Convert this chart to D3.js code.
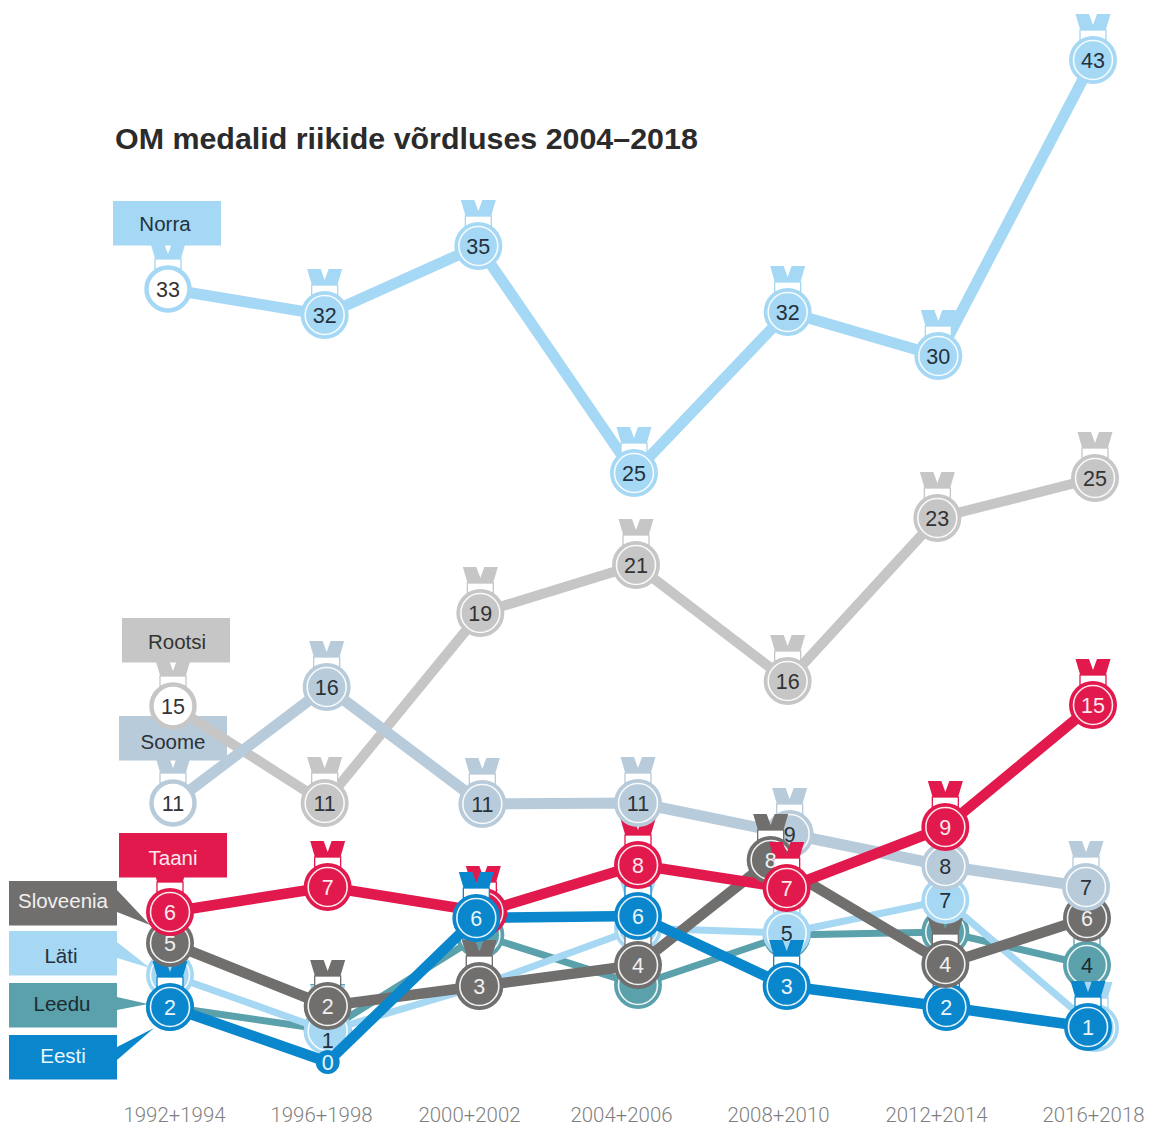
<!DOCTYPE html>
<html><head><meta charset="utf-8">
<script src="https://cdn.jsdelivr.net/npm/d3@7"></script>
<style>html,body{margin:0;background:#fff}svg{display:block}</style></head>
<body><svg id="c" width="1153" height="1126"></svg>
<script>
const periods = ["1992+1994","1996+1998","2000+2002","2004+2006","2008+2010","2012+2014","2016+2018"];
const norra = [33,32,35,25,32,30,43];
const rootsi = [15,11,19,21,16,23,25];
const soome = [11,16,11,11,9,8,7];
const taani = [6,7,6,8,7,9,15];
const sloveenia = [5,2,3,4,8,4,6];
const lati = [3,1,3,5,5,7,1];
const leedu = [2,1,5,3,5,5,4];
const eesti = [2,0,6,6,3,2,1];
const seriesNames = ["Norra","Rootsi","Soome","Taani","Sloveenia","Läti","Leedu","Eesti"];
const seriesValues = {Norra:norra,Rootsi:rootsi,Soome:soome,Taani:taani,Sloveenia:sloveenia,"Läti":lati,Leedu:leedu,Eesti:eesti};
const title = "OM medalid riikide võrdluses 2004–2018";

// ---- layout & style (hand placement of the original graphic) ----
const style = {
 Norra:{c:"#a5d8f4",w:11,t:"#24313d"},Rootsi:{c:"#c6c6c6",w:10,t:"#333"},Soome:{c:"#b8cbda",w:11,t:"#2b3238"},
 Taani:{c:"#e2194c",w:10.5,t:"#fbe9ee"},Sloveenia:{c:"#706f6e",w:10.5,t:"#f0f0f0"},"Läti":{c:"#a7d8f3",w:7,t:"#24313d"},
 Leedu:{c:"#5aa1ab",w:7,t:"#1b2b30"},Eesti:{c:"#0a87cc",w:10.5,t:"#eaf6fc"}};
const nudge = {
 Norra:{dx:[-2,1,1,3,3,0,1],dy:[-1,2,2,-1,-1,-3,0]},
 Rootsi:{dx:[3,1,3,5,3,-1,3],dy:[2,7,1,-1,0,-2,4]},
 Soome:{dx:[3,3,5,7,5,7,-6],dy:[7,6,8,7,-8,1,-1]},
 Taani:{dx:[0,4,6,7,2,7,1],dy:[1,-1,1,0,0,-15,1]},
 Sloveenia:{dx:[0,4,2,7,-14,7,-5],dy:[9,3,6,8,-5,7,7]},
 "Läti":{dx:[0,4,2,7,2,7,3],dy:[-5,5,6,-6,-1,12,2]},
 Leedu:{dx:[0,4,3,7,2,7,-5],dy:[4,4,1,5,1,-2,8]},
 Eesti:{dx:[0,4,-1,7,2,8,-4],dy:[4,13,7,5,6,4,1]}};
const hiddenLabel = {"Läti":[0,2,3,6],Leedu:[0,1,2,3,4,5],Taani:[2],Eesti:[]};
const labelShift = {"Läti-1":9};
const hollow = {Norra:[0],Rootsi:[0],Soome:[0]};
const tiny = {Eesti:[1]};
// per period stacking; "/r" = ribbon only, "/c" = disc only
const frontOrder = [
 ["Eesti","Sloveenia","Taani","Soome","Rootsi","Norra"],
 ["Eesti","Sloveenia","Taani","Soome","Rootsi","Norra"],
 ["Sloveenia","Taani","Eesti","Soome","Rootsi","Norra"],
 ["Sloveenia/r","Eesti","Sloveenia/c","Taani","Soome","Rootsi","Norra"],
 ["Soome","Sloveenia","Eesti","Taani","Rootsi","Norra"],
 ["Eesti","Sloveenia","Läti","Soome","Taani","Rootsi","Norra"],
 ["Sloveenia","Soome","Eesti","Taani","Rootsi","Norra"]];
const boxes = [
 {n:"Norra",x:113,y:201,tx:165,ty:231},
 {n:"Rootsi",x:122,y:618,tx:177,ty:649},
 {n:"Soome",x:119,y:716,tx:173,ty:749,under:true},
 {n:"Taani",x:119,y:833,tx:173,ty:865},
 {n:"Sloveenia",x:9,y:881,tx:63,ty:908,tip:[[117,890],[150,925],[117,912]]},
 {n:"Läti",x:9,y:931,tx:61,ty:963,tip:[[117,942],[150,968],[117,958]]},
 {n:"Leedu",x:9,y:983,tx:62,ty:1011,tip:[[117,997],[148,1004],[117,1010]]},
 {n:"Eesti",x:9,y:1035,tx:63,ty:1063,tip:[[117,1047],[154,1028],[117,1060]]}];

const x = d3.scalePoint().domain(periods).range([170,1092]);
const y = d3.scaleLinear().domain([0,43]).range([1049,60]);
const axisX = d3.scaleOrdinal().domain(periods).range([174,321,469,621,778,936,1093]);
const px = (n,i)=>x(periods[i])+nudge[n].dx[i];
const py = (n,i)=>y(seriesValues[n][i])+nudge[n].dy[i];

const svg = d3.select("#c");
const roboto = "Roboto, sans-serif";
const arial = "'Liberation Sans',Arial,sans-serif";

svg.append("text").attr("x",115).attr("y",149).attr("font-family",arial)
 .attr("font-weight",700).attr("font-size",30.4).attr("fill","#2b2b2b").text(title);

const axisG = svg.append("g").attr("transform","translate(0,1108)")
 .call(d3.axisBottom(axisX).tickValues(periods).tickSize(0).tickPadding(0));
axisG.select(".domain").remove();
axisG.selectAll("text").attr("font-family",roboto).attr("font-size",20.4).attr("font-weight",300).attr("fill","#7f7f7f");

const lineGen = n => d3.line().x((d,i)=>px(n,i)).y((d,i)=>py(n,i))(seriesValues[n]);
function drawLine(g,n){
 g.append("path").attr("d",lineGen(n)).attr("fill","none").attr("stroke",style[n].c)
  .attr("stroke-width",style[n].w).attr("stroke-linejoin","round");
}
function drawMarker(g,n,i,part){
 const s = style[n], cx = px(n,i), cy = py(n,i);
 const m = g.append("g").attr("transform",`translate(${cx},${cy})`);
 if((tiny[n]||[]).includes(i)){
  m.append("circle").attr("r",12).attr("fill",s.c);
  return;
 }
 if(part!=="c"){
  m.append("path").attr("d","M-17.5,-46L-4,-46L0,-35L4,-46L17.5,-46L12.5,-29L-12.5,-29Z").attr("fill",s.c);
  m.append("rect").attr("x",-13).attr("y",-30).attr("width",26).attr("height",10)
   .attr("fill","#fff").attr("stroke",s.c).attr("stroke-width",1.3);
 }
 if(part==="r") return;
 if((hollow[n]||[]).includes(i)){
  m.append("circle").attr("r",21.5).attr("fill","#fff").attr("stroke",s.c).attr("stroke-width",4.5);
 } else {
  m.append("circle").attr("r",24).attr("fill",s.c);
  m.append("circle").attr("r",19.5).attr("fill",s.c).attr("stroke","#fff").attr("stroke-width",1.6).attr("stroke-opacity",.9);
 }
}
function drawBox(g,b){
 g.append("rect").attr("x",b.x).attr("y",b.y).attr("width",108).attr("height",44.5).attr("fill",style[b.n].c);
 g.append("text").attr("x",b.tx).attr("y",b.ty).attr("text-anchor","middle").attr("font-family",arial)
  .attr("font-size",20.5).attr("fill",style[b.n].t).text(b.n);
}
const back = svg.append("g"), mid = svg.append("g"), front = svg.append("g");
boxes.filter(b=>b.under).forEach(b=>drawBox(back,b));
boxes.filter(b=>b.tip).forEach(b=>back.append("path").attr("d",d3.line()(b.tip)+"Z").attr("fill",style[b.n].c));
drawLine(back,"Leedu");
periods.forEach((p,i)=>drawMarker(back,"Leedu",i));
drawLine(back,"Läti");
periods.forEach((p,i)=>{ if(i!==5) drawMarker(back,"Läti",i); });
["Norra","Rootsi","Soome","Sloveenia","Eesti","Taani"].forEach(n=>drawLine(mid,n));
frontOrder.forEach((order,i)=>order.forEach(e=>{
 const [n,part] = e.split("/");
 drawMarker(front,n,i,part);
}));

// value labels on top
const labels = svg.append("g");
seriesNames.forEach(n=>seriesValues[n].forEach((v,i)=>{
 if((hiddenLabel[n]||[]).includes(i)) return;
 labels.append("text").attr("x",px(n,i)).attr("y",py(n,i)+7.5+(labelShift[n+"-"+i]||0))
  .attr("text-anchor","middle").attr("font-family",arial).attr("font-size",21.5)
  .attr("fill",(hollow[n]||[]).includes(i)?"#333":style[n].t).text(v);
}));

// name tags
const tags = svg.append("g");
boxes.filter(b=>!b.under).forEach(b=>drawBox(tags,b));
</script></body></html>
